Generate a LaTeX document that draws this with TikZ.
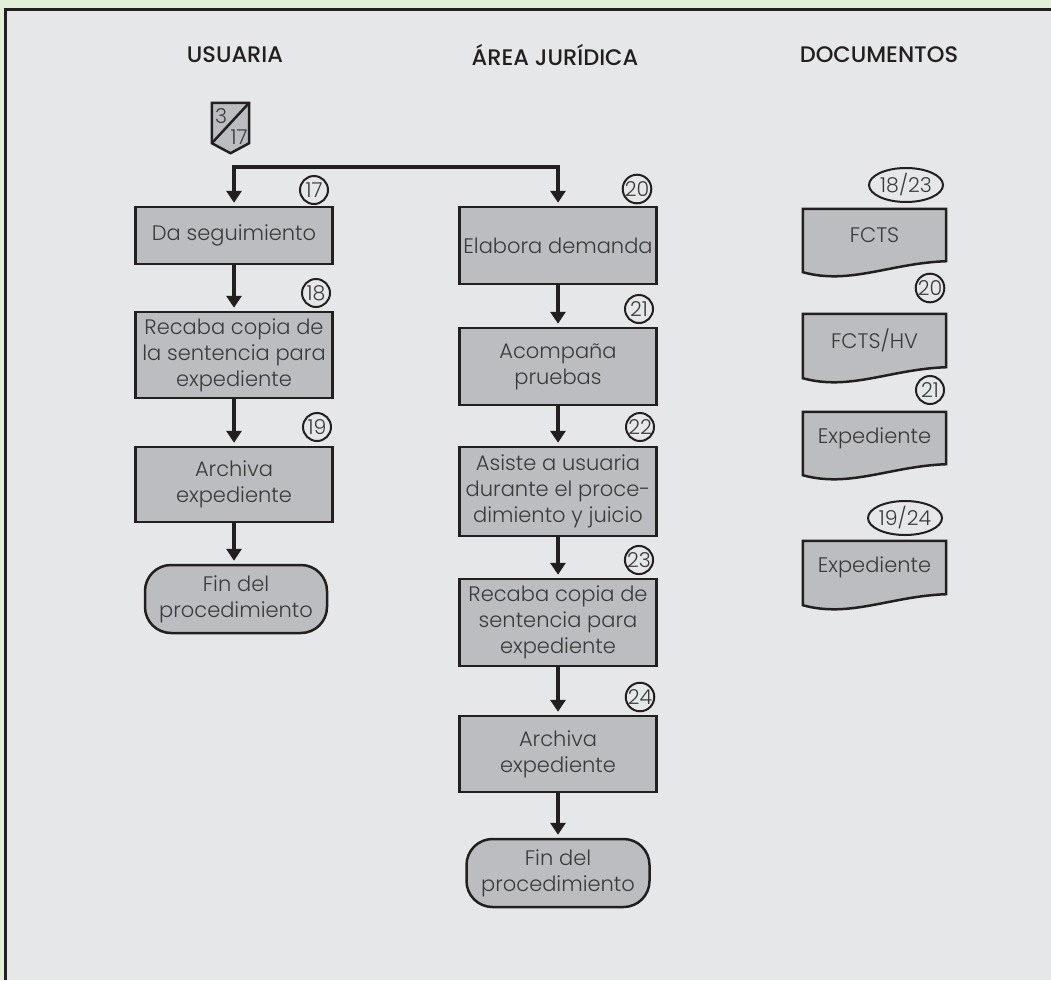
\documentclass[tikz,border=0pt]{standalone}
\usepackage{fontspec}
\setmainfont{Poppins Light}
\newfontfamily\headfont{Poppins Medium}
\usetikzlibrary{arrows.meta,calc,shapes.geometric,backgrounds}

\definecolor{ink}{HTML}{231F20}
\definecolor{boxfill}{HTML}{BCBDC0}
\definecolor{panel}{HTML}{E6E7E8}
\definecolor{framegreen}{HTML}{E2EFD9}
\definecolor{txt}{HTML}{3A3A3A}

\newcommand\bodyfont{\fontsize{21}{26}\selectfont}
\newcommand\numfont{\fontsize{20.5}{22}\selectfont}

% document symbol: flat top, wavy bottom edge
\newcommand\docoutline[1]{%
  \draw[docline] (#1.north west) -- (#1.north east) -- (#1.south east)
    .. controls ($(#1.south east)+(-56,2)$) and ($(#1.south west)+(47,24)$) ..
    ($(#1.south west)+(0,11)$) -- cycle;}

\tikzset{
  proc/.style={draw=ink, line width=2.5pt, fill=boxfill, text=txt, font=\bodyfont,
    align=center, inner sep=0pt, minimum width=197pt},
  term/.style={proc, rounded corners=26pt, minimum width=182pt, minimum height=68pt},
  docbox/.style={text=txt, font=\bodyfont, align=center, inner sep=0pt,
    minimum width=143pt},
  docline/.style={draw=ink, line width=2.5pt, fill=boxfill},
  numc/.style={circle, draw=ink, line width=2pt, minimum size=28pt, inner sep=0pt,
    font=\numfont, text=txt},
  nume/.style={ellipse, draw=ink, line width=2pt, minimum width=74pt,
    minimum height=34pt, inner sep=0pt, font=\numfont, text=txt},
  head/.style={font=\headfont\fontsize{22.5}{26}\selectfont, text=ink},
  arr/.style={draw=ink, line width=4.5pt, -{Triangle[width=15pt,length=12pt]},
    shorten >=3pt},
}

\begin{document}
\begin{tikzpicture}[x=1pt,y=-1pt]
\useasboundingbox (0,0) rectangle (1051,980);

% frame
\begin{scope}[on background layer]
  \fill[framegreen] (0,0) rectangle (1051,980);
  \fill[panel] (4,8) rectangle (1051,980);
  \draw[ink, line width=3pt] (5.5,980) -- (5.5,9.5) -- (1051,9.5);
\end{scope}

% column headings
\node[head] (hU) at (235,55) {USUARIA};
\node[head] (hA) at (555,55) {ÁREA JURÍDICA};
\node[head] (hD) at (879,55) {DOCUMENTOS};

% off-page connector
\node[minimum width=37pt, minimum height=40pt, inner sep=0pt] (off) at (230.5,123) {};
\draw[docline, line join=miter] (off.north west) -- (off.north east) -- (off.south east)
  -- ($(off.south)+(0,10)$) -- (off.south west) -- cycle;
\draw[ink, line width=2.5pt] (off.north east) -- (off.south west);
\node[font=\numfont, text=txt, inner sep=0pt] (offa) at (221,116) {3};
\node[font=\numfont, text=txt, inner sep=0pt] (offb) at (239,137) {17};

% USUARIA column
\node[proc, minimum height=57pt] (b17) at (234,235.5) {Da seguimiento};
\node[proc, minimum height=86pt] (b18) at (234,355) {Recaba copia de\\la sentencia para\\expediente};
\node[proc, minimum height=75pt] (b19) at (234,484.5) {Archiva\\expediente};
\node[term] (f1) at (236,599) {Fin del\\procedimiento};

% ÁREA JURÍDICA column
\node[proc, minimum height=77pt] (b20) at (558,245.5) {Elabora demanda};
\node[proc, minimum height=77pt] (b21) at (558,366.5) {Acompaña\\pruebas};
\node[proc, minimum height=89pt] (b22) at (558,491.5) {Asiste a usuaria\\durante el proce-\\dimiento y juicio};
\node[proc, minimum height=87pt] (b23) at (558,622.5) {Recaba copia de\\sentencia para\\expediente};
\node[proc, minimum height=76pt] (b24) at (558,754) {Archiva\\expediente};
\node[term, minimum width=183pt] (f2) at (558,873) {Fin del\\procedimiento};

% DOCUMENTOS column
\node[docbox, minimum height=52pt] (d1) at (874.5,235) {FCTS};
\node[docbox, minimum height=53pt] (d2) at (874.5,340.5) {FCTS/HV};
\node[docbox, minimum height=52pt] (d3) at (874.5,438) {Expediente};
\node[docbox, minimum height=53pt] (d4) at (874.5,567.5) {Expediente};
\begin{scope}[on background layer]
  \docoutline{d1}
  \docoutline{d2}
  \docoutline{d3}
  \docoutline{d4}
\end{scope}

% step numbers
\node[numc] (c17) at (314,190) {17};
\node[numc] (c18) at (316,293) {18};
\node[numc] (c19) at (317,427) {19};
\node[numc] (c20) at (637,189) {20};
\node[numc] (c21) at (639,309) {21};
\node[numc] (c22) at (640,427) {22};
\node[numc] (c23) at (639,560) {23};
\node[numc] (c24) at (640,697) {24};
\node[nume] (e1823) at (906,185) {18/23};
\node[numc] (c20d) at (930,288) {20};
\node[numc] (c21d) at (930,390) {21};
\node[nume] (e1924) at (905,518) {19/24};

% connectors
\coordinate (split) at (234,167);
\draw[arr] (split) -- (b17);
\draw[arr, line cap=rect] (split) -| (b20);
\draw[arr] (b17) -- (b18);
\draw[arr] (b18) -- (b19);
\draw[arr] (b19) -- (f1.north -| b19);
\draw[arr] (b20) -- (b21);
\draw[arr] (b21) -- (b22);
\draw[arr] (b22) -- (b23);
\draw[arr] (b23) -- (b24);
\draw[arr] (b24) -- (f2);
\end{tikzpicture}
\end{document}
